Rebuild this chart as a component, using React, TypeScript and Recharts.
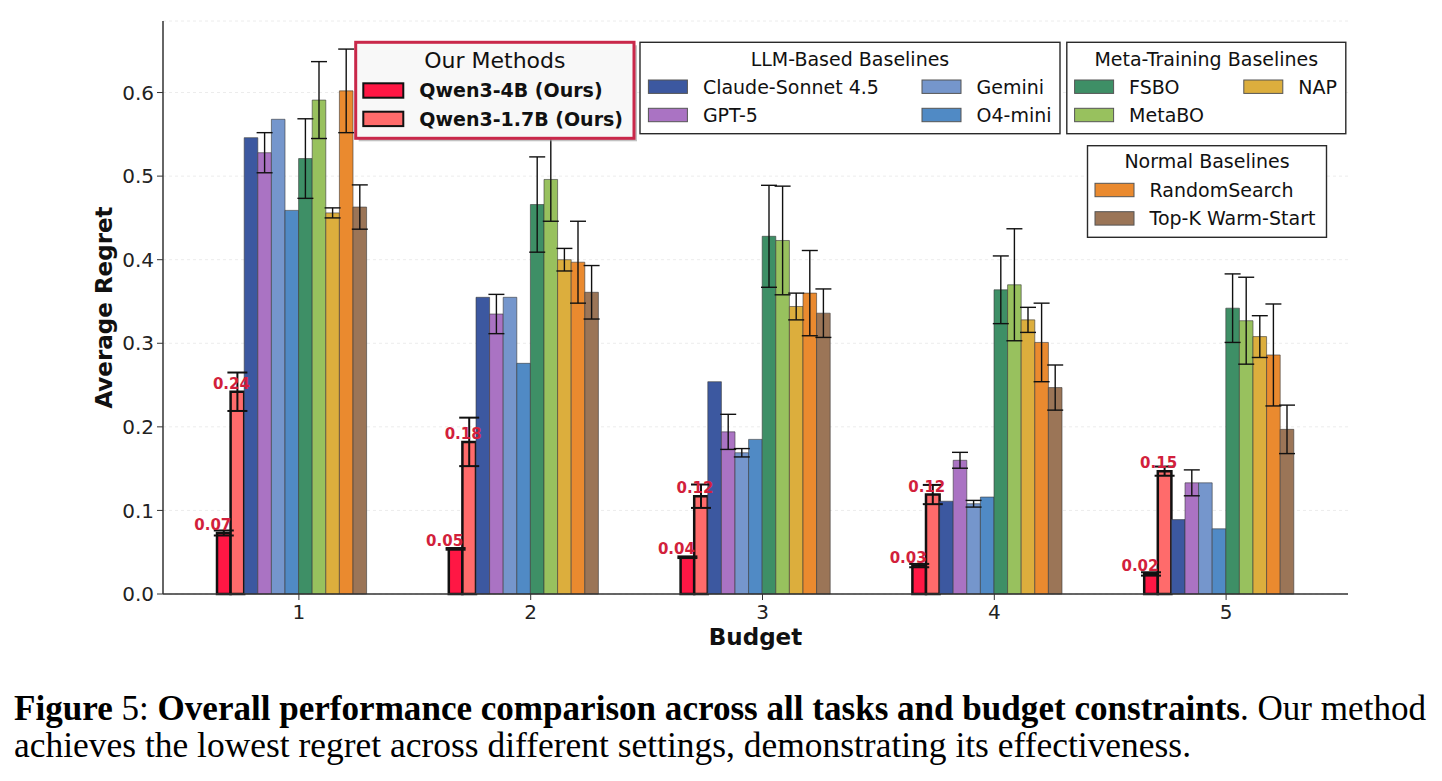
import { BarChart, Bar, XAxis, YAxis, CartesianGrid, ErrorBar, LabelList } from 'recharts';

const budgets = ['1', '2', '3', '4', '5'];

// average regret per budget, with the half-width of each error bar
const qwen4b = [0.073, 0.054, 0.044, 0.034, 0.024];
const qwen4bErr = [0.003, 0.001, 0.001, 0.002, 0.002];
const qwen17b = [0.242, 0.182, 0.117, 0.119, 0.147];
const qwen17bErr = [0.023, 0.029, 0.014, 0.0115, 0.0055];
const claude = [0.546, 0.355, 0.254, 0.111, 0.089];
const claudeErr = [0, 0, 0, 0, 0];
const gpt5 = [0.528, 0.335, 0.194, 0.16, 0.133];
const gpt5Err = [0.024, 0.0235, 0.021, 0.0095, 0.0155];
const gemini = [0.568, 0.355, 0.169, 0.108, 0.133];
const geminiErr = [0, 0, 0.005, 0.004, 0];
const o4mini = [0.459, 0.276, 0.185, 0.116, 0.078];
const o4miniErr = [0, 0, 0, 0, 0];
const fsbo = [0.521, 0.466, 0.428, 0.364, 0.342];
const fsboErr = [0.0476, 0.057, 0.061, 0.0405, 0.041];
const metabo = [0.591, 0.496, 0.423, 0.37, 0.327];
const metaboErr = [0.046, 0.05, 0.065, 0.067, 0.052];
const nap = [0.456, 0.4, 0.344, 0.328, 0.308];
const napErr = [0.006, 0.0135, 0.016, 0.015, 0.025];
const randomSearch = [0.602, 0.397, 0.36, 0.301, 0.286];
const randomSearchErr = [0.05, 0.049, 0.051, 0.047, 0.061];
const topK = [0.463, 0.361, 0.336, 0.247, 0.197];
const topKErr = [0.0265, 0.032, 0.029, 0.027, 0.029];

const yTicks = [0, 0.1, 0.2, 0.3, 0.4, 0.5, 0.6];

type Series = { key: string; name: string; color: string; values: number[]; errors: number[]; ours?: boolean; shift?: number };

const series: Series[] = [
  { key: 'qwen4b', name: 'Qwen3-4B (Ours)', color: '#ff1744', values: qwen4b, errors: qwen4bErr, ours: true, shift: -11 },
  { key: 'qwen17b', name: 'Qwen3-1.7B (Ours)', color: '#ff6b6b', values: qwen17b, errors: qwen17bErr, ours: true, shift: -6 },
  { key: 'claude', name: 'Claude-Sonnet 4.5', color: '#3c58a0', values: claude, errors: claudeErr },
  { key: 'gpt5', name: 'GPT-5', color: '#aa73c3', values: gpt5, errors: gpt5Err },
  { key: 'gemini', name: 'Gemini', color: '#7596cc', values: gemini, errors: geminiErr },
  { key: 'o4mini', name: 'O4-mini', color: '#508ac5', values: o4mini, errors: o4miniErr },
  { key: 'fsbo', name: 'FSBO', color: '#3e8f66', values: fsbo, errors: fsboErr },
  { key: 'metabo', name: 'MetaBO', color: '#98c15e', values: metabo, errors: metaboErr },
  { key: 'nap', name: 'NAP', color: '#dcae3d', values: nap, errors: napErr },
  { key: 'randomSearch', name: 'RandomSearch', color: '#ea8a2f', values: randomSearch, errors: randomSearchErr },
  { key: 'topK', name: 'Top-K Warm-Start', color: '#9b7557', values: topK, errors: topKErr },
];

const rows = budgets.map((b, i) => {
  const row: Record<string, any> = { budget: b };
  series.forEach((s) => {
    row[s.key] = s.values[i];
    row[s.key + 'Err'] = s.errors[i];
  });
  return row;
});

const byKey = (k: string) => series.find((s) => s.key === k)!;

const FONT = 'DejaVu Sans';
const SERIF = "'Liberation Serif', 'Times New Roman', Times, serif";
const LABEL_RED = '#d21f3c';

// legend panels: patch columns / rows, filled column by column
const panels = [
  {
    title: 'Our Methods', titleSize: 22, x: 355.7, y: 42.3, w: 278.3, h: 96, titleY: 60,
    cols: [363.3], rows: [83.3, 111.7], patchW: 40, patchH: 14.4, textDx: 56,
    keys: ['qwen4b', 'qwen17b'], ours: true,
  },
  {
    title: 'LLM-Based Baselines', titleSize: 19, x: 640, y: 42.3, w: 420, h: 91.4, titleY: 59.3,
    cols: [648.4, 922], rows: [80, 108.3], patchW: 39, patchH: 13.4, textDx: 54.5,
    keys: ['claude', 'gpt5', 'gemini', 'o4mini'],
  },
  {
    title: 'Meta-Training Baselines', titleSize: 19, x: 1066.8, y: 42.3, w: 279, h: 91.4, titleY: 59.3,
    cols: [1074.6, 1243.8], rows: [80, 108.3], patchW: 39, patchH: 13.4, textDx: 54.5,
    keys: ['fsbo', 'metabo', 'nap'],
  },
  {
    title: 'Normal Baselines', titleSize: 19, x: 1087.5, y: 145.7, w: 239, h: 91.6, titleY: 161.5,
    cols: [1095], rows: [183.3, 211.7], patchW: 39, patchH: 13.4, textDx: 54.5,
    keys: ['randomSearch', 'topK'],
  },
];

const valueTag = (shift: number) => (props: any) => {
  const { x, y, width, value } = props;
  if (value == null) return null;
  return (
    <text
      x={Number(x) + Number(width) / 2 + shift}
      y={Number(y) - 3}
      textAnchor="middle"
      fill={LABEL_RED}
      fontSize={15}
      fontWeight="bold"
      fontFamily={FONT}
    >
      {Number(value).toFixed(2)}
    </text>
  );
};

function Legends() {
  return (
    <svg width={1442} height={781} style={{ position: 'absolute', left: 0, top: 0, pointerEvents: 'none' }}>
      {panels.map((p) => (
        <g key={p.title}>
          {p.ours && <rect x={p.x + 3} y={p.y + 3} width={p.w} height={p.h} fill="#9a9a9a" opacity={0.6} />}
          <rect
            x={p.x}
            y={p.y}
            width={p.w}
            height={p.h}
            fill={p.ours ? '#f8f8f8' : '#ffffff'}
            stroke={p.ours ? '#c9284a' : '#2a2a2a'}
            strokeWidth={p.ours ? 3 : 1.4}
          />
          <text
            x={p.x + p.w / 2}
            y={p.titleY + (0.729 * p.titleSize) / 2}
            textAnchor="middle"
            fontSize={p.titleSize}
            fontFamily={FONT}
            fill="#111"
          >
            {p.title}
          </text>
          {p.keys.map((k, i) => {
            const s = byKey(k);
            const col = Math.floor(i / p.rows.length);
            const row = i % p.rows.length;
            const px = p.cols[col];
            const py = p.rows[row];
            return (
              <g key={k}>
                <rect
                  x={px}
                  y={py}
                  width={p.patchW}
                  height={p.patchH}
                  fill={s.color}
                  stroke={p.ours ? '#111' : '#555'}
                  strokeWidth={p.ours ? 2 : 1}
                />
                <text
                  x={px + p.textDx}
                  y={py + p.patchH / 2 + (0.729 * 19) / 2}
                  fontSize={19}
                  fontWeight={p.ours ? 'bold' : 'normal'}
                  fontFamily={FONT}
                  fill="#111"
                >
                  {s.name}
                </text>
              </g>
            );
          })}
        </g>
      ))}
    </svg>
  );
}

function Caption() {
  return (
    <svg width={1442} height={781} style={{ position: 'absolute', left: 0, top: 0, pointerEvents: 'none' }}>
      <text x={14} y={720} fontSize={35} style={{ fontFamily: SERIF }} fill="#000" textLength={1412} lengthAdjust="spacingAndGlyphs">
        <tspan fontWeight="bold">Figure</tspan>
        <tspan> 5: </tspan>
        <tspan fontWeight="bold">Overall performance comparison across all tasks and budget constraints</tspan>
        <tspan>. Our method</tspan>
      </text>
      <text x={14} y={757} fontSize={35} style={{ fontFamily: SERIF }} fill="#000" textLength={1177} lengthAdjust="spacingAndGlyphs">
        achieves the lowest regret across different settings, demonstrating its effectiveness.
      </text>
    </svg>
  );
}

export default function App() {
  const frame = { stroke: '#333', strokeWidth: 1.5 };
  return (
    <div style={{ position: 'absolute', left: 0, top: 0, width: 1442, height: 781, background: '#fff' }}>
      <BarChart
        width={1442}
        height={660}
        data={rows}
        margin={{ top: 21, right: 94, bottom: 21, left: 93 }}
        barGap={0}
        barSize={13.6}
      >
        <CartesianGrid vertical={false} stroke="#ececec" strokeDasharray="3 3" />
        <XAxis
          dataKey="budget"
          padding={{ left: 20, right: 6 }}
          height={45}
          axisLine={frame}
          tickLine={{ stroke: '#333' }}
          tickSize={6}
          tickMargin={5}
          tick={{ fontSize: 20, fontFamily: FONT, fill: '#222' }}
          label={{
            content: (props: any) => {
              const vb = props.viewBox;
              return (
                <text x={vb.x + vb.width / 2} y={vb.y + 51} textAnchor="middle" fontSize={23} fontWeight="bold" fontFamily={FONT} fill="#111">
                  Budget
                </text>
              );
            },
          }}
        />
        <XAxis xAxisId="top" orientation="top" dataKey="budget" height={0} tick={false} tickLine={false} axisLine={frame} />
        <YAxis
          domain={[0, 0.6856]}
          ticks={yTicks}
          width={70}
          axisLine={frame}
          tickLine={{ stroke: '#333' }}
          tickSize={6}
          tickMargin={3}
          tickFormatter={(v: number) => v.toFixed(1)}
          tick={{ fontSize: 20, fontFamily: FONT, fill: '#222' }}
          label={{
            content: (props: any) => {
              const vb = props.viewBox;
              const cx = vb.x + 11;
              const cy = vb.y + vb.height / 2;
              return (
                <text
                  x={cx}
                  y={cy}
                  transform={`rotate(-90 ${cx} ${cy})`}
                  textAnchor="middle"
                  dominantBaseline="central"
                  fontSize={23}
                  fontWeight="bold"
                  fontFamily={FONT}
                  fill="#111"
                >
                  Average Regret
                </text>
              );
            },
          }}
        />
        <YAxis yAxisId="right" orientation="right" width={0} domain={[0, 1]} tick={false} tickLine={false} axisLine={frame} />
        {series.map((s) => (
          <Bar
            key={s.key}
            dataKey={s.key}
            name={s.name}
            fill={s.color}
            stroke={s.ours ? '#111' : '#3a3a3a'}
            strokeWidth={s.ours ? 2.5 : 1}
            strokeOpacity={s.ours ? 1 : 0.6}
            isAnimationActive={false}
          >
            <ErrorBar
              dataKey={s.key + 'Err'}
              direction="y"
              width={s.ours ? 10 : 8}
              stroke="#111"
              strokeWidth={s.ours ? 2 : 1.4}
            />
            {s.ours && <LabelList dataKey={s.key} content={valueTag(s.shift ?? 0)} />}
          </Bar>
        ))}
        {/* empty trailing slot so each group sits just left of its tick */}
        <Bar dataKey="slot" fill="none" legendType="none" isAnimationActive={false} />
      </BarChart>
      <Legends />
      <Caption />
    </div>
  );
}
